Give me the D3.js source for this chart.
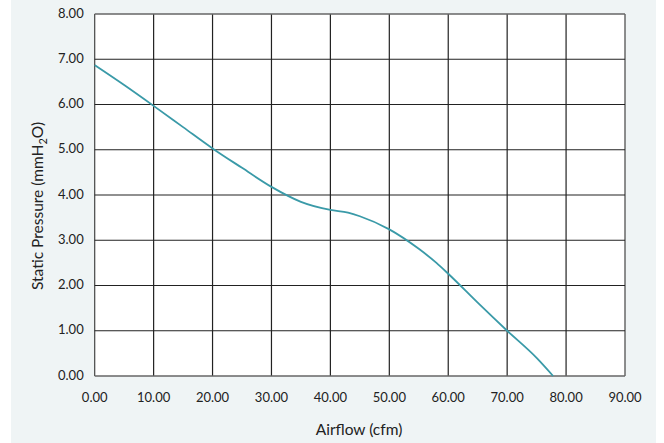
<!DOCTYPE html>
<html lang="en">
<head>
    <meta charset="UTF-8">
    <title>Fan P-Q Curve</title>
    <style>
        body { margin: 0; background: #fff; }
        .tick-label { font-family: Lato, sans-serif; font-size: 13px; fill: #222; }
        .axis-title { font-family: Lato, sans-serif; font-size: 15.5px; fill: #222; }
    </style>
</head>
<body>
    <svg id="chart" width="664" height="443"></svg>

    <script src="https://d3js.org/d3.v7.min.js"></script>
    <script>
        // chart values
        const airflow  = [0, 5, 10, 15, 20, 25, 30, 35, 40, 43, 45, 50, 55, 58, 60, 65, 70, 75, 77.8];
        const pressure = [6.87, 6.43, 5.97, 5.50, 5.03, 4.60, 4.18, 3.85, 3.67, 3.61, 3.53, 3.24, 2.81, 2.50, 2.26, 1.62, 1.00, 0.40, 0.00];
        const xTicks = [0, 10, 20, 30, 40, 50, 60, 70, 80, 90];
        const yTicks = [0, 1, 2, 3, 4, 5, 6, 7, 8];

        const svg = d3.select("#chart");

        // panel background
        svg.append("rect")
           .attr("x", 11).attr("y", 0)
           .attr("width", 645).attr("height", 443)
           .attr("fill", "#eff4f5");

        const margin = {top: 14, left: 94.7, right: 625, bottom: 376};

        const x = d3.scaleLinear().domain([0, 90]).range([margin.left, margin.right]);
        const y = d3.scaleLinear().domain([0, 8]).range([margin.bottom, margin.top]);

        // plot area
        svg.append("rect")
           .attr("x", x(0)).attr("y", y(8))
           .attr("width", x(90) - x(0)).attr("height", y(0) - y(8))
           .attr("fill", "#fff");

        // grid
        svg.append("g")
           .selectAll("line")
           .data(xTicks)
           .enter().append("line")
           .attr("x1", d => x(d)).attr("x2", d => x(d))
           .attr("y1", y(0)).attr("y2", y(8))
           .attr("stroke", d => (d === 0 || d === 90) ? "#444" : "#222")
           .attr("stroke-width", 1.2);

        svg.append("g")
           .selectAll("line")
           .data(yTicks)
           .enter().append("line")
           .attr("x1", x(0)).attr("x2", x(90))
           .attr("y1", d => y(d)).attr("y2", d => y(d))
           .attr("stroke", d => (d === 0 || d === 8) ? "#666" : "#222")
           .attr("stroke-width", d => (d === 0 || d === 8) ? 1.6 : 1.2);

        // tick labels
        svg.append("g")
           .selectAll("text")
           .data(yTicks)
           .enter().append("text")
           .attr("class", "tick-label")
           .attr("x", x(0) - 11)
           .attr("y", d => y(d) - 1)
           .attr("dy", "0.35em")
           .attr("text-anchor", "end")
           .text(d => d3.format(".2f")(d));

        svg.append("g")
           .selectAll("text")
           .data(xTicks)
           .enter().append("text")
           .attr("class", "tick-label")
           .attr("x", d => x(d))
           .attr("y", y(0) + 26)
           .attr("text-anchor", "middle")
           .text(d => d3.format(".2f")(d));

        // curve
        const line = d3.line()
            .x((d, i) => x(airflow[i]))
            .y(d => y(d))
            .curve(d3.curveMonotoneX);

        svg.append("path")
           .datum(pressure)
           .attr("d", line)
           .attr("fill", "none")
           .attr("stroke", "#3a9aa8")
           .attr("stroke-width", 1.8);

        // axis titles
        svg.append("text")
           .attr("class", "axis-title")
           .attr("x", 359)
           .attr("y", 435)
           .attr("text-anchor", "middle")
           .text("Airflow (cfm)");

        const yt = svg.append("text")
           .attr("class", "axis-title")
           .attr("transform", "translate(43,206) rotate(-90)")
           .attr("text-anchor", "middle");
        yt.append("tspan").text("Static Pressure (mmH");
        yt.append("tspan").attr("font-size", "11px").attr("dy", "4").text("2");
        yt.append("tspan").attr("dy", "-4").text("O)");
    </script>
</body>
</html>
